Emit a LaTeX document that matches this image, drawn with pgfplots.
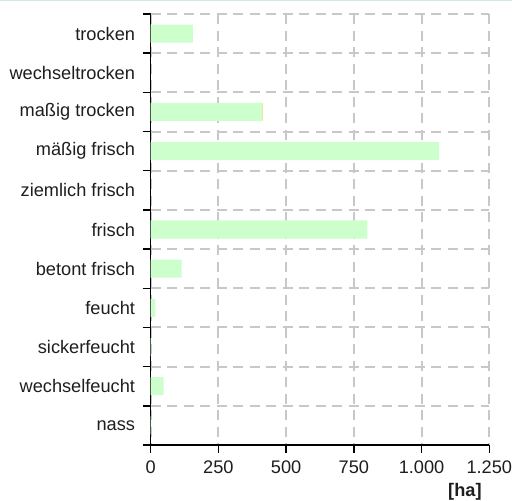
\documentclass[border=0pt]{standalone}
\usepackage{fontspec}
\setmainfont{Liberation Sans}
\usepackage{pgfplots}
\pgfplotsset{compat=1.18}
\usetikzlibrary{calc}
\definecolor{barg}{RGB}{204,255,204}
\definecolor{bary}{RGB}{255,226,120}
\definecolor{gridc}{RGB}{200,200,200}
\definecolor{topc}{RGB}{208,232,232}
\definecolor{txt}{RGB}{30,30,30}
\begin{document}
\begin{tikzpicture}[font=\fontsize{18.2bp}{21bp}\selectfont, text=txt]
\begin{axis}[
  scale only axis,
  width=338.6bp, height=431bp,
  xmin=0, xmax=1250,
  ymin=-0.5, ymax=10.5,
  y dir=reverse,
  axis x line*=bottom,
  axis y line*=left,
  axis line style={black, line width=1.5bp},
  xtick={0,250,500,750,1000,1250},
  xticklabels={0,250,500,750,1.000,1.250},
  ytick={-0.5,0.5,...,10.5},
  yticklabels={trocken,wechseltrocken,ma{\ss}ig trocken,m\"a{\ss}ig frisch,ziemlich frisch,frisch,betont frisch,feucht,sickerfeucht,wechselfeucht,nass,{}},
  tick align=outside,
  major tick length=8bp,
  tick style={black, line width=1.5bp},
  yticklabel style={anchor=east, inner sep=0pt, yshift=-19.59bp, xshift=-7.5bp},
  xticklabel style={anchor=north, inner sep=0pt, yshift=-8bp},
  xmajorgrids, ymajorgrids,
  grid style={gridc, line width=2bp, dash pattern=on 10bp off 6.5bp},
  xbar stacked,
  bar width=0.46,
  xlabel={\textbf{[ha]}},
  xlabel style={at={(rel axis cs:1,0)}, anchor=north east, inner sep=0pt, xshift=-7.5bp, yshift=-38bp},
]
\addplot[fill=barg, draw=none] coordinates {
(156,0) (0,1) (412,2) (1065,3) (0,4) (800,5) (114,6) (17,7) (2,8) (48,9) (2,10)};
\addplot[fill=bary, draw=none] coordinates {
(0,0) (0,1) (3,2) (0,3) (0,4) (0,5) (0,6) (0,7) (0,8) (0,9) (0,10)};
\end{axis}
\pgfresetboundingbox
\useasboundingbox ($(current axis.south west)+(-150.7bp,-56bp)$) rectangle ($(current axis.north east)+(22.7bp,14bp)$);
\draw[topc, line width=2bp] ($(current axis.north west)+(-150.7bp,13.5bp)$) -- ($(current axis.north east)+(22.7bp,13.5bp)$);
\end{tikzpicture}
\end{document}
